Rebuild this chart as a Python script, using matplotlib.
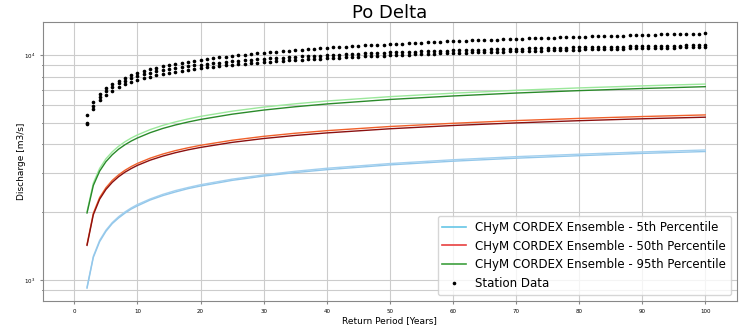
import matplotlib
matplotlib.use("Agg")
import matplotlib.pyplot as plt
from matplotlib.lines import Line2D

# ---- station data (return period 2..100 years) ----
station_T = list(range(2, 101))
station_a = [5390, 6180, 6700, 7090, 7410, 7670, 7910, 8110, 8290, 8460, 8610,
             8750, 8880, 9000, 9110, 9210, 9320, 9410, 9500, 9590, 9670,
             9750, 9820, 9900, 9970, 10030, 10100, 10160, 10220, 10280, 10340,
             10390, 10450, 10500, 10550, 10600, 10650, 10700, 10740, 10790, 10830,
             10870, 10920, 10960, 11000, 11040, 11080, 11110, 11150, 11190, 11220,
             11260, 11290, 11330, 11360, 11390, 11420, 11460, 11490, 11520, 11550,
             11580, 11610, 11640, 11670, 11690, 11720, 11750, 11770, 11800, 11830,
             11850, 11880, 11900, 11930, 11950, 11980, 12000, 12030, 12050, 12070,
             12100, 12120, 12140, 12160, 12180, 12210, 12230, 12250, 12270, 12290,
             12310, 12330, 12350, 12370, 12390, 12410, 12430, 12450]
station_b = [5000, 5920, 6490, 6900, 7210, 7470, 7690, 7880, 8040, 8190, 8320,
             8440, 8550, 8650, 8740, 8830, 8910, 8980, 9050, 9120, 9180,
             9240, 9300, 9360, 9410, 9460, 9510, 9550, 9600, 9640, 9680,
             9720, 9760, 9800, 9830, 9870, 9900, 9930, 9960, 10000, 10030,
             10050, 10080, 10110, 10140, 10160, 10190, 10220, 10240, 10260, 10290,
             10310, 10330, 10350, 10380, 10400, 10420, 10440, 10460, 10480, 10500,
             10510, 10530, 10550, 10570, 10590, 10600, 10620, 10640, 10650, 10670,
             10690, 10700, 10720, 10730, 10750, 10760, 10780, 10790, 10800, 10820,
             10830, 10840, 10860, 10870, 10880, 10900, 10910, 10920, 10930, 10950,
             10960, 10970, 10980, 10990, 11000, 11020, 11030, 11040]
station_c = [4940, 5760, 6270, 6650, 6940, 7180, 7390, 7570, 7720, 7860, 7990,
             8110, 8210, 8310, 8410, 8490, 8570, 8650, 8720, 8790, 8850,
             8910, 8970, 9030, 9080, 9130, 9180, 9230, 9270, 9320, 9360,
             9400, 9440, 9480, 9520, 9550, 9590, 9620, 9660, 9690, 9720,
             9750, 9780, 9810, 9840, 9870, 9890, 9920, 9950, 9970, 10000,
             10020, 10050, 10070, 10090, 10120, 10140, 10160, 10180, 10200, 10230,
             10250, 10270, 10290, 10310, 10320, 10340, 10360, 10380, 10400, 10420,
             10430, 10450, 10470, 10480, 10500, 10520, 10530, 10550, 10560, 10580,
             10590, 10610, 10620, 10640, 10650, 10670, 10680, 10700, 10710, 10720,
             10740, 10750, 10760, 10780, 10790, 10800, 10810, 10830]

# ---- CHyM CORDEX ensemble percentiles ----
model_T = [2, 3, 4, 5, 6, 7, 8, 9, 10, 12, 14, 16, 18, 20, 25, 30, 35, 40, 50, 60, 70, 80, 90, 100]
p5_a = [930, 1275, 1500, 1665, 1800, 1910, 2005, 2090, 2165, 2290, 2400, 2495, 2575, 2650, 2805, 2930, 3040, 3135, 3290, 3420, 3530, 3620, 3705, 3780]
p5_b = [920, 1260, 1480, 1645, 1780, 1885, 1980, 2065, 2135, 2265, 2370, 2460, 2545, 2615, 2770, 2895, 3000, 3090, 3245, 3370, 3475, 3565, 3650, 3720]
p50_a = [1440, 1980, 2325, 2570, 2770, 2930, 3070, 3190, 3295, 3475, 3625, 3755, 3865, 3965, 4175, 4345, 4485, 4605, 4805, 4965, 5105, 5220, 5320, 5410]
p50_b = [1425, 1950, 2285, 2525, 2715, 2875, 3010, 3125, 3230, 3405, 3550, 3675, 3785, 3880, 4085, 4250, 4385, 4500, 4695, 4855, 4985, 5100, 5200, 5285]
p95_a = [2010, 2695, 3130, 3455, 3710, 3925, 4110, 4270, 4410, 4655, 4860, 5035, 5190, 5330, 5620, 5860, 6060, 6235, 6520, 6755, 6955, 7130, 7280, 7415]
p95_b = [1985, 2630, 3045, 3355, 3600, 3810, 3985, 4140, 4275, 4510, 4710, 4880, 5030, 5165, 5450, 5685, 5880, 6050, 6335, 6565, 6765, 6935, 7085, 7220]

legend_labels = ['CHyM CORDEX Ensemble - 5th Percentile',
                 'CHyM CORDEX Ensemble - 50th Percentile',
                 'CHyM CORDEX Ensemble - 95th Percentile',
                 'Station Data']
x_ticks = list(range(0, 101, 10))

fig = plt.figure(figsize=(7.39, 3.27), dpi=100)
ax = fig.add_axes([0.058, 0.0795, 0.939, 0.8535])

ax.plot(model_T, p5_a, color='#a3d0ef', lw=1.0)
ax.plot(model_T, p5_b, color='#93c7ea', lw=1.0)
ax.plot(model_T, p50_a, color='#f0602a', lw=1.0)
ax.plot(model_T, p50_b, color='#8b1010', lw=1.0)
ax.plot(model_T, p95_a, color='#9be89b', lw=1.0)
ax.plot(model_T, p95_b, color='#2a8a2a', lw=1.0)
for s in (station_a, station_b, station_c):
    ax.plot(station_T, s, color='k', marker='.', ms=3.2, ls='none')

ax.set_yscale('log')
ax.set_xlim(-5, 105)
ax.set_ylim(807, 14000)
ax.set_xticks(x_ticks)
ax.grid(True, which='both', color='#cccccc', lw=0.8)
ax.tick_params(labelsize=4, length=2, color='#888888')
ax.tick_params(which='minor', length=1)
for sp in ax.spines.values():
    sp.set_color('#888888')

ax.set_title('Po Delta', fontsize=13, pad=2)
ax.set_ylabel('Discharge [m3/s]', fontsize=6.5, labelpad=-1.5)
ax.set_xlabel('Return Period [Years]', fontsize=6.5, labelpad=1.5)

handles = [Line2D([], [], color='#66c6e6', lw=1.2),
           Line2D([], [], color='#e84040', lw=1.2),
           Line2D([], [], color='#3ea03e', lw=1.2),
           Line2D([], [], color='k', marker='.', ms=3.2, ls='none')]
ax.legend(handles, legend_labels, loc='lower right', fontsize=8.5)

fig.savefig('out.png')
